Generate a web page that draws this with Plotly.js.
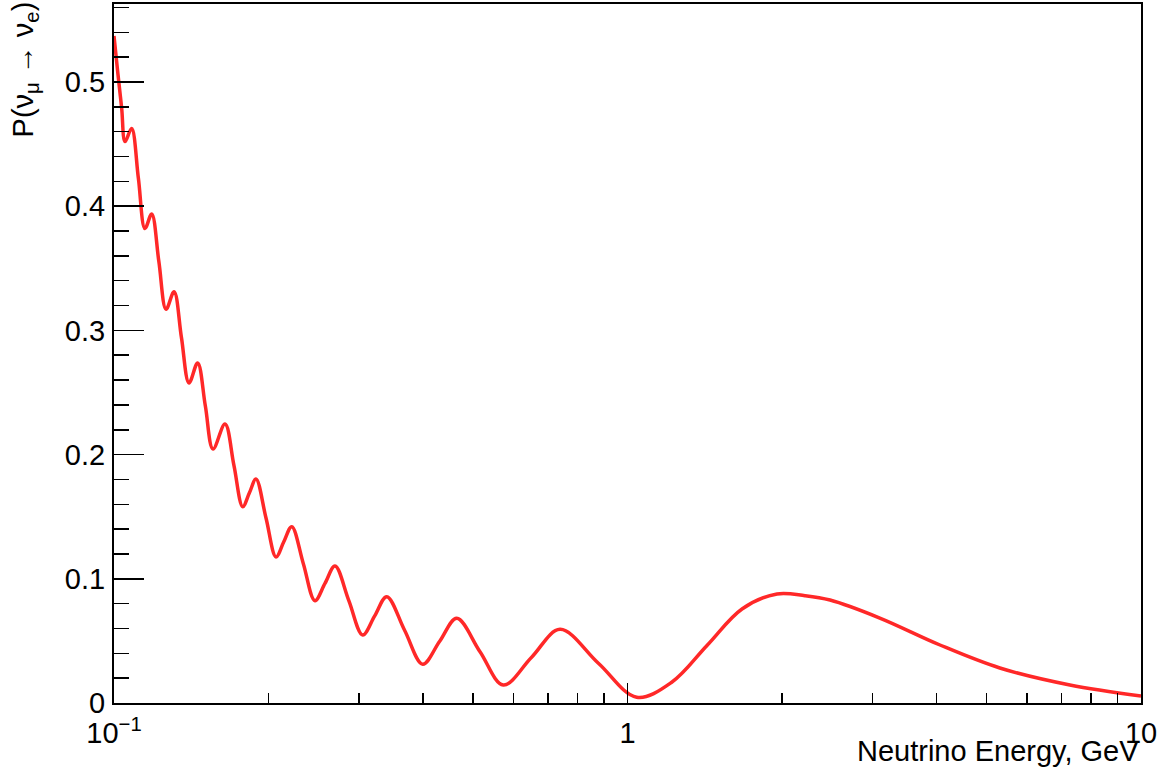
<!DOCTYPE html>
<html>
<head>
<meta charset="utf-8">
<script src="https://cdn.plot.ly/plotly-3.0.1.min.js"></script>
<style>html,body{margin:0;padding:0;background:#fff;}#chart{width:1176px;height:776px;}</style>
</head>
<body>
<div id="chart"></div>
<script>
// Neutrino energy (GeV)
const energy = [0.1, 0.1018, 0.1035, 0.1051, 0.1082, 0.11155, 0.1149, 0.1184, 0.12228, 0.1263,
  0.1309, 0.1353, 0.1400, 0.1455, 0.15063, 0.1559, 0.1645, 0.17122, 0.1781, 0.18354, 0.1890,
  0.1977, 0.2068, 0.21413, 0.2219, 0.23374, 0.2462, 0.25755, 0.2694, 0.28661, 0.3050, 0.32191,
  0.3398, 0.36823, 0.3992, 0.4308, 0.4651, 0.51614, 0.5730, 0.65061, 0.7389, 0.8776, 1.0421,
  1.221, 1.4282, 1.6711, 1.9549, 2.2165, 2.48, 3.10, 4.06, 5.31, 7.27, 10.0];
// Oscillation probability P(nu_mu -> nu_e)
const prob = [0.537, 0.506, 0.479, 0.452, 0.4625, 0.4225, 0.382, 0.3937, 0.3554, 0.317,
  0.3312, 0.2944, 0.2577, 0.2738, 0.2391, 0.2045, 0.2246, 0.1913, 0.1581, 0.1692, 0.1804,
  0.1490, 0.1176, 0.1298, 0.1420, 0.1122, 0.0824, 0.0963, 0.1103, 0.0825, 0.0548, 0.0702,
  0.0856, 0.0584, 0.0312, 0.0497, 0.0682, 0.0413, 0.0145, 0.0369, 0.0593, 0.0320, 0.0046,
  0.0169, 0.0463, 0.0757, 0.0878, 0.0864, 0.0829, 0.0684, 0.0467, 0.0282, 0.0145, 0.0056];

const xTickVals = [0.1, 1, 10];
const xTickText = ['10<sup>\u22121</sup>', '1', '10'];
const xMinorVals = [0.2, 0.3, 0.4, 0.5, 0.6, 0.7, 0.8, 0.9, 2, 3, 4, 5, 6, 7, 8, 9];
const yTickVals = [0, 0.1, 0.2, 0.3, 0.4, 0.5];
const yTickText = ['0', '0.1', '0.2', '0.3', '0.4', '0.5'];

const font = 'Liberation Sans, Arial, Helvetica, sans-serif';

const trace = {
  x: energy, y: prob, type: 'scatter', mode: 'lines',
  line: {color: '#ff2828', width: 3.5, shape: 'spline', smoothing: 1.0},
  hoverinfo: 'skip'
};

const layout = {
  width: 1176, height: 776,
  margin: {l: 114, r: 35, t: 4, b: 73, pad: 0},
  paper_bgcolor: '#ffffff', plot_bgcolor: '#ffffff',
  showlegend: false,
  font: {family: font, size: 29, color: '#000'},
  xaxis: {
    type: 'log', range: [-1, 1], autorange: false,
    tickmode: 'array', tickvals: xTickVals, ticktext: xTickText,
    ticks: 'inside', ticklen: 20, tickwidth: 1.5, tickcolor: '#000',
    minor: {tickmode: 'array', tickvals: xMinorVals, ticks: 'inside', ticklen: 10, tickwidth: 1.5, tickcolor: '#000', showgrid: false},
    showgrid: false, zeroline: false,
    showline: true, linecolor: '#000', linewidth: 2, mirror: true,
    tickfont: {family: font, size: 29, color: '#000'},
    ticklabelstandoff: 3
  },
  yaxis: {
    range: [0, 0.5628], autorange: false,
    tickmode: 'array', tickvals: yTickVals, ticktext: yTickText,
    ticks: 'inside', ticklen: 30, tickwidth: 1.5, tickcolor: '#000',
    minor: {dtick: 0.02, ticks: 'inside', ticklen: 15, tickwidth: 1.5, tickcolor: '#000', showgrid: false},
    showgrid: false, zeroline: false,
    showline: true, linecolor: '#000', linewidth: 2, mirror: true,
    tickfont: {family: font, size: 29, color: '#000'},
    ticklabelstandoff: 1
  },
  annotations: [
    {text: 'Neutrino Energy, GeV', xref: 'paper', yref: 'paper', x: 1.0, y: -0.043,
     xanchor: 'right', yanchor: 'top', showarrow: false, font: {family: font, size: 29, color: '#000'}},
    {text: 'P(\u03bd<sub>\u03bc</sub> \u2192 \u03bd<sub>e</sub>)', xref: 'paper', yref: 'paper', x: -0.087, y: 1.006,
     xanchor: 'center', yanchor: 'top', textangle: -90, showarrow: false, font: {family: font, size: 29, color: '#000'}}
  ]
};

Plotly.newPlot('chart', [trace], layout, {staticPlot: true, displayModeBar: false});
</script>
</body>
</html>
